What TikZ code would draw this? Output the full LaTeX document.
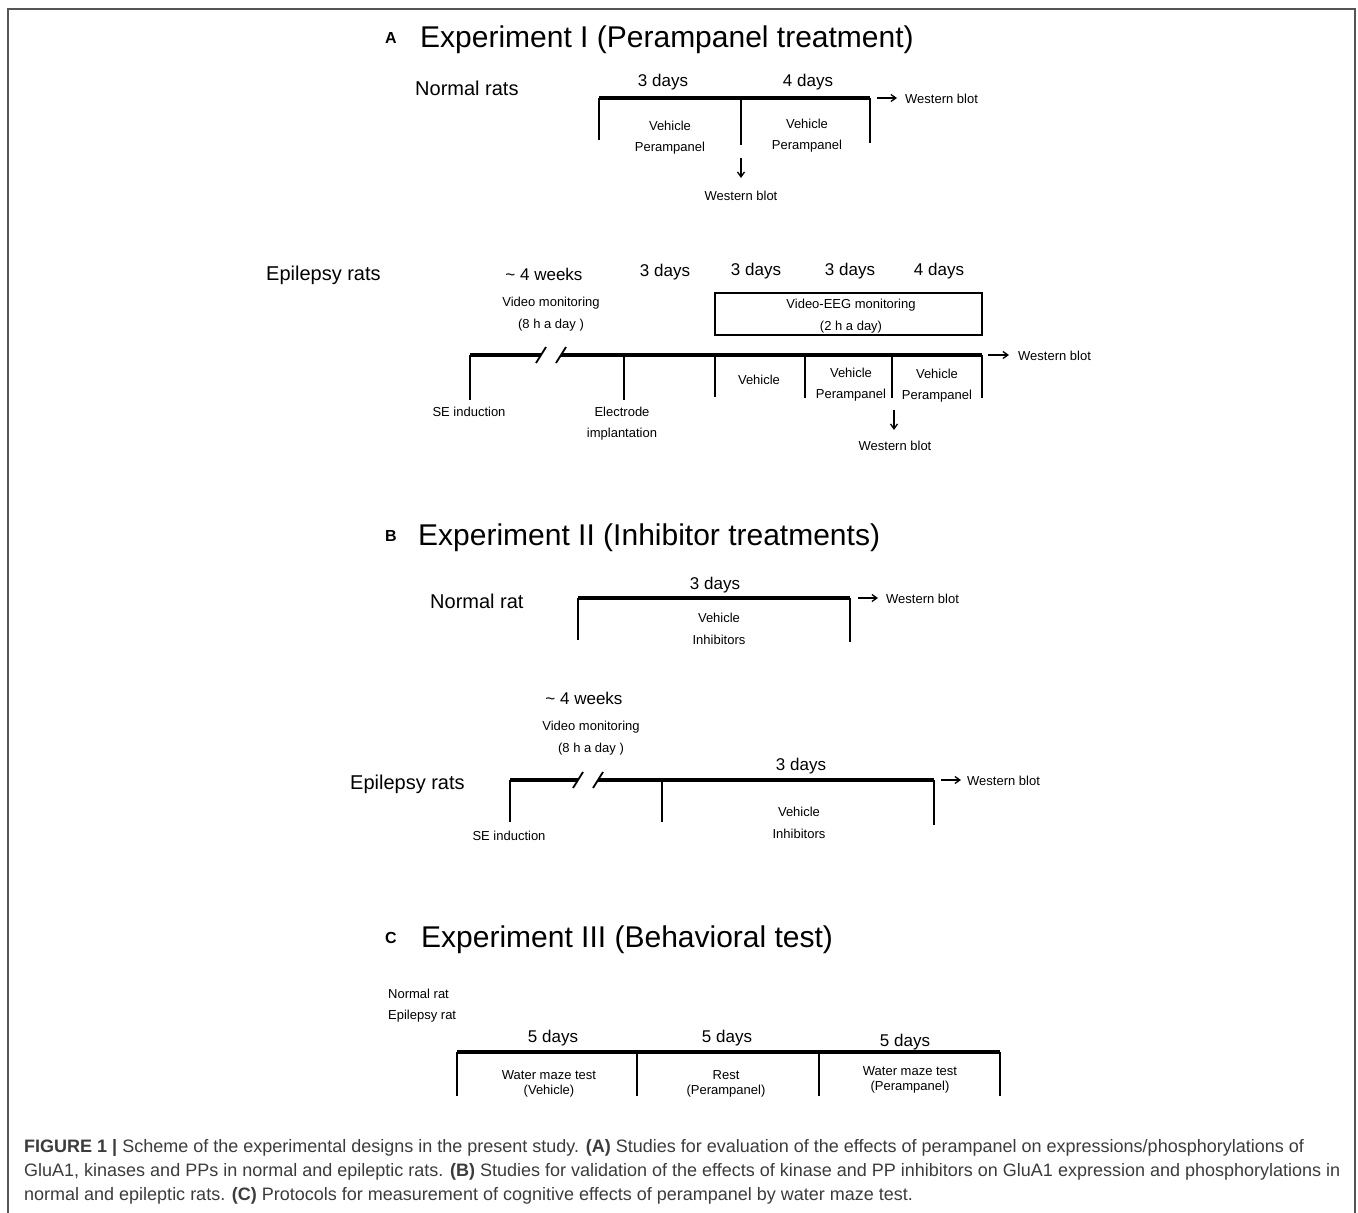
\documentclass[tikz,border=0pt]{standalone}
\usepackage{fontspec}
\setmainfont{Liberation Sans}
\usetikzlibrary{arrows.meta}
\definecolor{captxt}{RGB}{60,60,60}
\definecolor{framec}{RGB}{85,85,85}
\tikzset{
  sm/.style={font=\fontsize{13}{15}\selectfont, inner sep=0pt, anchor=center, yshift=-1pt},
  dayl/.style={font=\fontsize{17}{19}\selectfont, inner sep=0pt, anchor=center, yshift=-2pt},
  grp/.style={font=\fontsize{20}{22}\selectfont, inner sep=0pt, anchor=west},
  ttl/.style={font=\fontsize{30}{32}\selectfont, inner sep=0pt, anchor=west, yshift=-2pt},
  lett/.style={font=\fontsize{16}{18}\selectfont\bfseries, inner sep=0pt, anchor=center, yshift=-1pt},
  tline/.style={line width=4pt},
  tick/.style={line width=1.3pt},
  slash/.style={line width=1.8pt},
  arr/.style={line width=1.3pt, -{Straight Barb[length=5pt,width=7pt]}},
  captext/.style={font=\fontsize{18}{22}\selectfont, text=captxt, inner sep=0pt, anchor=west}
}
\begin{document}
\begin{tikzpicture}[x=1pt,y=-1pt]
\useasboundingbox (0,0) rectangle (1358,1213);
\fill[white] (0,0) rectangle (1358,1213);
% frame
\draw[framec, line width=1.6pt] (8,1213) -- (8,9) -- (1355,9) -- (1355,1213);

%================ A =================
\node[lett] (lA) at (391,37) {A};
\node[ttl] (tA) at (420,38) {Experiment I (Perampanel treatment)};
\node[grp] (nrA) at (415,88) {Normal rats};
\node[dayl] (dA1) at (663,80) {3 days};
\node[dayl] (dA2) at (808,80) {4 days};
\coordinate (a1) at (599,98);
\coordinate (a2) at (741,98);
\coordinate (a3) at (870,98);
\coordinate (a1b) at (599,140);
\coordinate (a2b) at (741,145);
\coordinate (a3b) at (870,143);
\draw[tline] (a1) -- (a3);
\draw[tick] (a1) -- (a1b);
\draw[tick] (a2) -- (a2b);
\draw[tick] (a3) -- (a3b);
\node[sm] (vA1) at (670,125) {Vehicle};
\node[sm] (pA1) at (670,147) {Perampanel};
\node[sm] (vA2) at (807,123) {Vehicle};
\node[sm] (pA2) at (807,145) {Perampanel};
\node[sm] (wbA1) at (741,195) {Western blot};
\draw[arr] (741,158) -- (741,178);
\node[sm, anchor=west] (wbA2) at (905,98) {Western blot};
\draw[arr] (877,98) -- (897,98);
% epilepsy
\node[grp] (erA) at (266,275) {Epilepsy rats};
\node[dayl] (dE0) at (544,272) {\textasciitilde\ 4 weeks};
\node[dayl] (dE1) at (665,270) {3 days};
\node[dayl] (dE2) at (756,269) {3 days};
\node[dayl] (dE3) at (850,269) {3 days};
\node[dayl] (dE4) at (939,269) {4 days};
\node[sm] (vm1) at (551,302) {Video monitoring};
\node[sm] (vm2) at (551,324) {(8 h a day )};
\node[draw, line width=1.3pt, minimum width=267pt, minimum height=42pt, inner sep=0pt] (eeg) at (848.5,314) {};
\node[sm] (eeg1) at (851,304) {Video-EEG monitoring};
\node[sm] (eeg2) at (851,326) {(2 h a day)};
\coordinate (e0) at (470,355);
\coordinate (e0s) at (541,355);
\coordinate (e1s) at (561,355);
\coordinate (e1) at (624,355);
\coordinate (e2) at (715,355);
\coordinate (e3) at (805,355);
\coordinate (e4) at (892,355);
\coordinate (e5) at (982,355);
\draw[tline] (e0) -- (e0s);
\draw[tline] (e1s) -- (e5);
\draw[slash] (536,363) -- (546,347);
\draw[slash] (556,363) -- (566,347);
\draw[tick] (e0) -- ++(0,45);
\draw[tick] (e1) -- ++(0,45);
\draw[tick] (e2) -- ++(0,42);
\draw[tick] (e3) -- ++(0,43);
\draw[tick] (e4) -- ++(0,43);
\draw[tick] (e5) -- ++(0,43);
\node[sm] (se1) at (469,411) {SE induction};
\node[sm] (el1) at (622,411) {Electrode};
\node[sm] (el2) at (622,433) {implantation};
\node[sm] (ev1) at (759,379) {Vehicle};
\node[sm] (ev2) at (851,372) {Vehicle};
\node[sm] (ep2) at (851,394) {Perampanel};
\node[sm] (ev3) at (937,373) {Vehicle};
\node[sm] (ep3) at (937,395) {Perampanel};
\node[sm] (wbE1) at (895,445) {Western blot};
\draw[arr] (894,410) -- (894,430);
\node[sm, anchor=west] (wbE2) at (1018,355) {Western blot};
\draw[arr] (988,355) -- (1009,355);

%================ B =================
\node[lett] (lB) at (391,535) {B};
\node[ttl] (tB) at (418,536) {Experiment II (Inhibitor treatments)};
\node[grp] (nrB) at (430,601) {Normal rat};
\node[dayl] (dB1) at (715,583) {3 days};
\coordinate (b1) at (578,598);
\coordinate (b2) at (850,598);
\draw[tline] (b1) -- (b2);
\draw[tick] (b1) -- ++(0,42);
\draw[tick] (b2) -- ++(0,44);
\node[sm] (vB1) at (719,617) {Vehicle};
\node[sm] (iB1) at (719,639) {Inhibitors};
\node[sm, anchor=west] (wbB1) at (886,598) {Western blot};
\draw[arr] (858,598) -- (878,598);
\node[dayl] (dB0) at (584,696) {\textasciitilde\ 4 weeks};
\node[sm] (vmB1) at (591,726) {Video monitoring};
\node[sm] (vmB2) at (591,748) {(8 h a day )};
\node[grp] (erB) at (350,784) {Epilepsy rats};
\node[dayl] (dB2) at (801,764) {3 days};
\coordinate (c0) at (510,780);
\coordinate (c0s) at (578,780);
\coordinate (c1s) at (598,780);
\coordinate (c1) at (662,780);
\coordinate (c2) at (934,780);
\draw[tline] (c0) -- (c0s);
\draw[tline] (c1s) -- (c2);
\draw[slash] (573,788) -- (583,772);
\draw[slash] (593,788) -- (603,772);
\draw[tick] (c0) -- ++(0,42);
\draw[tick] (c1) -- ++(0,42);
\draw[tick] (c2) -- ++(0,45);
\node[sm] (seB) at (509,835) {SE induction};
\node[sm] (vB2) at (799,811) {Vehicle};
\node[sm] (iB2) at (799,833) {Inhibitors};
\node[sm, anchor=west] (wbB2) at (967,780) {Western blot};
\draw[arr] (941,780) -- (961,780);

%================ C =================
\node[lett] (lC) at (391,937) {C};
\node[ttl] (tC) at (421,938) {Experiment III (Behavioral test)};
\node[sm, anchor=west] (nrC) at (388,993) {Normal rat};
\node[sm, anchor=west] (erC) at (388,1015) {Epilepsy rat};
\node[dayl] (dC1) at (553,1036) {5 days};
\node[dayl] (dC2) at (727,1036) {5 days};
\node[dayl] (dC3) at (905,1040) {5 days};
\coordinate (f0) at (457,1052);
\coordinate (f1) at (637,1052);
\coordinate (f2) at (819,1052);
\coordinate (f3) at (1000,1052);
\draw[tline] (f0) -- (f3);
\foreach \p in {f0,f1,f2,f3} \draw[tick] (\p) -- ++(0,44);
\node[sm] (wm1) at (549,1074) {Water maze test};
\node[sm] (wm1b) at (549,1090) {(Vehicle)};
\node[sm] (rs) at (726,1074) {Rest};
\node[sm] (rsb) at (726,1090) {(Perampanel)};
\node[sm] (wm2) at (910,1070) {Water maze test};
\node[sm] (wm2b) at (910,1086) {(Perampanel)};

%================ caption =================
\node[captext] (cp1) at (24,1148) {\textbf{FIGURE 1 |} Scheme of the experimental designs in the present study. \textbf{(A)} Studies for evaluation of the effects of perampanel on expressions/phosphorylations of};
\node[captext] (cp2) at (24,1172) {GluA1, kinases and PPs in normal and epileptic rats. \textbf{(B)} Studies for validation of the effects of kinase and PP inhibitors on GluA1 expression and phosphorylations in};
\node[captext] (cp3) at (24,1196) {normal and epileptic rats. \textbf{(C)} Protocols for measurement of cognitive effects of perampanel by water maze test.};
\end{tikzpicture}
\end{document}
